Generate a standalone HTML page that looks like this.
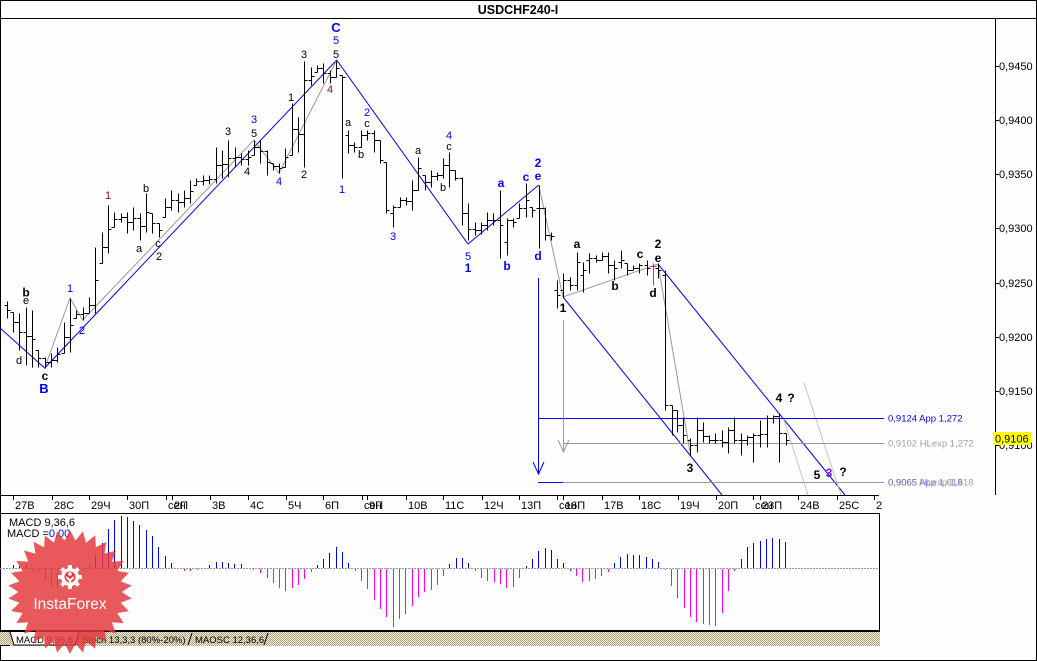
<!DOCTYPE html>
<html><head><meta charset="utf-8"><title>USDCHF240-I</title>
<style>
html,body{margin:0;padding:0;background:#fff;overflow:hidden;}
svg{display:block;}
text{font-family:"Liberation Sans",Arial,sans-serif;}
</style></head><body>
<svg width="1037" height="661" viewBox="0 0 1037 661" xmlns="http://www.w3.org/2000/svg">
<defs>
<pattern id="hatch" width="2" height="2" patternUnits="userSpaceOnUse">
<rect width="2" height="2" fill="#f2eed8"/>
<rect width="1" height="1" fill="#aaa283"/>
<rect x="1" y="1" width="1" height="1" fill="#aaa283"/>
</pattern>
<polygon id="tooth" points="-5.6,-51 0,-62 5.6,-51"/>
</defs>
<rect width="1037" height="661" fill="#fefefe"/>

<!-- frame & title -->
<g shape-rendering="crispEdges" stroke="#000" fill="none">
<rect x="0.5" y="0.5" width="1036" height="660"/>
<path d="M0 18.5H1037"/>
<path d="M995.5 18V495"/>
<path d="M0 495.5H879"/>
<path d="M0 513.5H879.5V631"/>
<path d="M0 631H880" stroke-width="2"/>
</g>
<text x="518" y="14" font-size="12.5" font-weight="bold" text-anchor="middle">USDCHF240-I</text>

<!-- price axis -->
<g shape-rendering="crispEdges" stroke="#000">
<path d="M995 66.5H999M995 120.5H999M995 174.5H999M995 228.5H999M995 283.5H999M995 337.5H999M995 391.5H999M995 445.5H999"/>
</g>
<g font-size="11" fill="#000">
<text x="999" y="70">0,9450</text>
<text x="999" y="124">0,9400</text>
<text x="999" y="178">0,9350</text>
<text x="999" y="232">0,9300</text>
<text x="999" y="287">0,9250</text>
<text x="999" y="341">0,9200</text>
<text x="999" y="395">0,9150</text>
<text x="999" y="449">0,9100</text>
</g>
<rect x="993" y="432" width="38" height="13" fill="#ffff00"/>
<text x="995" y="442.5" font-size="11" fill="#000">0,9106</text>

<!-- time axis -->
<g shape-rendering="crispEdges" stroke="#000">
<path d="M13.5 495V500M52.5 495V500M89.5 495V500M127.5 495V500M166.5 495V500M172.5 495V500M210.5 495V500M248.5 495V500M286.5 495V500M323.5 495V500M362.5 495V500M367.5 495V500M406.5 495V500M443.5 495V500M482.5 495V500M519.5 495V500M557.5 495V500M563.5 495V500M602.5 495V500M639.5 495V500M678.5 495V500M716.5 495V500M753.5 495V500M760.5 495V500M798.5 495V500M837.5 495V500M874.5 495V500"/>
</g>
<g font-size="11" fill="#000">
<text x="15" y="509">27В</text>
<text x="54" y="509">28С</text>
<text x="91" y="509">29Ч</text>
<text x="129" y="509">30П</text>
<text x="168" y="509">сен</text>
<text x="174" y="509">2П</text>
<text x="212" y="509">3В</text>
<text x="250" y="509">4С</text>
<text x="288" y="509">5Ч</text>
<text x="325" y="509">6П</text>
<text x="364" y="509">сен</text>
<text x="369" y="509">9П</text>
<text x="408" y="509">10В</text>
<text x="445" y="509">11С</text>
<text x="484" y="509">12Ч</text>
<text x="521" y="509">13П</text>
<text x="559" y="509">сен</text>
<text x="565" y="509">16П</text>
<text x="604" y="509">17В</text>
<text x="641" y="509">18С</text>
<text x="680" y="509">19Ч</text>
<text x="718" y="509">20П</text>
<text x="755" y="509">сен</text>
<text x="762" y="509">23П</text>
<text x="800" y="509">24В</text>
<text x="839" y="509">25С</text>
<text x="876" y="509">2</text>
</g>

<!-- wave lines -->
<g fill="none" stroke-width="1">
<polyline points="0,328 44.7,368 336.7,60 468,244 538.7,185" stroke="#0000ff"/>
<polyline points="44.7,368 70,298 82.7,320 254,140 279,173 336.7,60" stroke="#999"/>
<polyline points="538.7,185 563,297 658,264 690,452" stroke="#999"/>
<line x1="563" y1="297" x2="722" y2="495" stroke="#0000ff"/>
<line x1="658" y1="264" x2="845" y2="495" stroke="#0000ff"/>
<line x1="783" y1="417" x2="808" y2="495" stroke="#c4c4c4"/>
<line x1="804" y1="383" x2="841" y2="495" stroke="#c4c4c4"/>
</g>
<g fill="none" shape-rendering="crispEdges">
<path d="M538.5 278V474" stroke="#0000ff"/>
<path d="M538 418.5H884" stroke="#0000ff"/>
<path d="M563 443.5H884" stroke="#999"/>
<path d="M538 482.5H563" stroke="#0000ff"/>
<path d="M563 482.5H884" stroke="#999"/>
<path d="M563.5 320V452" stroke="#999"/>
</g>
<path d="M533 462L538.5 474L544 462" fill="none" stroke="#0000ff"/>
<path d="M558 440L563.5 452L569 440" fill="none" stroke="#999"/>

<g font-size="9.5">
<text x="888" y="421.5" fill="#0000ff">0,9124 App 1,272</text>
<text x="888" y="446.5" fill="#a0a0a0">0,9102 HLexp 1,272</text>
<text x="888" y="485.5" fill="#a0a0a0">0,9065 HLexp 1,618</text>
<text x="888" y="485.5" fill="#5050d0" fill-opacity="0.7">0,9065 App 1,618</text>
</g>

<!-- price bars -->
<g transform="translate(0.5,0.5)" shape-rendering="crispEdges" fill="none">
<path stroke="#000" d="M7 301V318M4 305H7M7 310H10M13 312V332M10 312H13M13 322H16M19 313V350M16 322H19M19 332H22M26 307V365M23 332H26M26 336H29M32 310V367M29 336H32M32 339H35M38 350V367M35 350H38M38 358H41M45 357V368M42 358H45M45 362H48M51 353V367M48 362H51M51 360H54M57 347V362M54 360H57M57 354H60M64 322V353M61 353H64M64 337H67M70 298V352M67 337H70M70 325H73M76 310V318M73 318H76M76 314H79M83 307V320M80 314H83M83 313H86M89 297V313M86 313H89M89 305H92M95 247V313M92 305H95M95 280H98M102 232V263M99 263H102M102 247H105M108 205V253M105 247H108M108 229H111M114 212V227M111 227H114M114 219H117M121 213V222M118 219H121M121 217H124M127 212V233M124 217H127M127 222H130M133 207V230M130 222H133M133 218H136M140 213V240M137 218H140M140 226H143M146 193V232M143 226H146M146 212H149M152 213V233M149 213H152M152 223H155M159 223V237M156 223H159M159 230H162M165 198V217M162 217H165M165 207H168M171 190V210M168 207H171M171 200H174M178 193V212M175 200H178M178 202H181M184 190V207M181 202H184M184 198H187M190 180V203M187 198H190M190 191H193M196 178V185M193 185H196M196 181H199M203 175V185M200 181H203M203 180H206M209 175V184M206 180H209M209 179H212M216 147V183M213 179H216M216 165H219M222 150V178M219 165H222M222 164H225M228 140V177M225 164H228M228 158H231M235 147V167M232 158H235M235 157H238M241 153V165M238 157H241M241 159H244M248 150V165M245 159H248M248 157H251M254 140V155M251 155H254M254 147H257M260 140V163M257 147H260M260 151H263M267 150V175M264 151H267M267 162H270M273 163V170M270 163H273M273 166H276M279 163V173M276 166H279M279 168H282M285 148V167M282 167H285M285 157H288M292 103V155M289 155H292M292 129H295M298 117V152M295 129H298M298 134H301M304 61V167M301 134H304M304 80H307M311 67V85M308 80H311M311 76H314M317 65V72M314 72H317M317 68H320M323 63V83M320 68H323M323 73H326M330 70V83M327 73H330M330 77H333M336 60V77M333 77H336M336 68H339M342 75V178M339 75H342M342 77H345M348 130V153M345 135H348M348 145H351M354 142V152M351 145H354M354 147H357M361 130V147M358 147H361M361 135H364M367 130V140M364 135H367M367 133H370M374 130V152M371 133H374M374 140H377M380 140V163M377 140H380M380 160H383M386 162V213M383 162H386M386 210H389M393 205V227M390 213H393M393 207H396M400 197V207M397 207H400M400 200H403M406 197V205M403 200H406M406 201H409M412 180V210M409 201H412M412 190H415M418 157V190M415 190H418M418 168H421M425 175V190M422 175H425M425 182H428M431 170V187M428 182H431M431 176H434M437 172V180M434 176H437M437 175H440M443 158V178M440 175H443M443 165H446M449 152V187M446 165H449M449 170H452M455 170V180M452 170H455M455 178H458M462 177V225M459 178H462M462 213H465M468 203V240M465 213H468M468 229H471M475 222V235M472 229H475M475 230H478M481 222V234M478 230H481M481 225H484M487 212V230M484 225H487M487 220H490M493 213V225M490 220H493M493 220H496M500 190V258M497 220H500M500 225H503M507 218V255M504 242H507M507 220H510M513 218V227M510 220H513M513 222H516M519 203V218M516 218H519M519 208H522M526 183V217M523 208H526M526 200H529M532 207V217M529 207H532M532 210H535M539 185V248M536 208H539M539 208H542M545 207V240M542 208H545M545 235H548M551 232V240M548 235H551M551 236H554M557 280V308M554 290H557M557 295H560M563 273V297M560 290H563M563 280H566M570 277V290M567 280H570M570 285H573M577 252V290M574 285H577M577 262H580M583 262V292M580 275H583M583 270H586M589 253V273M586 260H589M589 258H592M596 255V262M593 258H596M596 260H599M602 252V260M599 260H602M602 256H605M608 252V273M605 256H608M608 265H611M614 260V280M611 265H614M614 268H617M621 250V268M618 262H621M621 260H624M627 263V275M624 263H627M627 270H630M633 265V270M630 270H633M633 268H636M639 263V273M636 268H639M639 265H642M647 260V275M644 265H647M647 268H650M658 263V278M655 268H658M658 270H661M665 270V410M662 275H665M665 405H668M672 405V435M669 405H672M672 410H675M677 410V432M674 410H677M677 425H680M683 417V443M680 425H683M683 435H686M690 438V455M687 440H690M690 445H693M697 417V452M694 445H697M697 430H700M703 422V442M700 430H703M703 436H706M709 435V443M706 436H709M709 440H712M715 433V443M712 440H715M715 440H718M722 430V447M719 440H722M722 442H725M728 427V453M725 442H728M728 430H731M734 417V443M731 430H734M734 440H737M741 433V455M738 440H741M741 440H744M747 435V445M744 440H747M747 437H750M753 433V462M750 437H753M753 435H756M760 420V447M757 435H760M760 434H763M767 415V447M764 434H767M767 418H770M773 415V423M770 418H773M773 416H776M779 413V462M776 416H779M779 433H782M786 433V445M783 433H786M786 440H789"/>
<path stroke="#ff00ff" d="M653 263V285M650 266H656"/>
</g>

<!-- wave labels: black regular -->
<g font-size="11" fill="#000" text-anchor="middle">
<text x="26" y="304">e</text>
<text x="19" y="364">d</text>
<text x="139" y="252">a</text>
<text x="146" y="192">b</text>
<text x="158" y="247">c</text>
<text x="159" y="260">2</text>
<text x="228" y="135">3</text>
<text x="254" y="137">5</text>
<text x="247" y="175">4</text>
<text x="291" y="101">1</text>
<text x="304" y="58">3</text>
<text x="304" y="178">2</text>
<text x="336" y="58">5</text>
<text x="348" y="126">a</text>
<text x="361" y="158">b</text>
<text x="367" y="127">c</text>
<text x="418" y="154">a</text>
<text x="443" y="191">b</text>
<text x="449" y="150">c</text>
<text x="108" y="199" fill="#8a1010">1</text>
<text x="330" y="93" fill="#8a1010">4</text>
</g>
<!-- black bold -->
<g font-size="12" font-weight="bold" fill="#000" text-anchor="middle">
<text x="26" y="296.5">b</text>
<text x="45" y="380">c</text>
<text x="577" y="248">a</text>
<text x="615" y="290">b</text>
<text x="640" y="258">c</text>
<text x="653" y="297">d</text>
<text x="658" y="262">e</text>
<text x="658" y="248">2</text>
<text x="563" y="312">1</text>
<text x="690" y="472">3</text>
<text x="779" y="402">4</text>
<text x="791" y="402">?</text>
<text x="817" y="479">5</text>
<text x="843" y="476">?</text>
<text x="829" y="477" fill="#7a20e0">3</text>
</g>
<!-- blue regular -->
<g font-size="11" fill="#0000ff" text-anchor="middle">
<text x="336" y="44">5</text>
<text x="254" y="123">3</text>
<text x="279" y="185">4</text>
<text x="70" y="292">1</text>
<text x="82" y="334">2</text>
<text x="342" y="193">1</text>
<text x="367" y="116">2</text>
<text x="393" y="240">3</text>
<text x="449" y="139">4</text>
<text x="468" y="260">5</text>
</g>
<!-- blue bold -->
<g font-size="12" font-weight="bold" fill="#0000ff" text-anchor="middle">
<text x="468" y="272">1</text>
<text x="501" y="187">a</text>
<text x="507" y="270">b</text>
<text x="526" y="181">c</text>
<text x="538" y="167">2</text>
<text x="538" y="180">e</text>
<text x="538" y="260">d</text>
<text x="336" y="32" font-size="13">C</text>
<text x="44" y="393" font-size="13">B</text>
</g>

<!-- MACD panel -->
<path d="M0 568.5H879" stroke="#999" stroke-dasharray="2,1" shape-rendering="crispEdges"/>
<g transform="translate(0.5,0)" shape-rendering="crispEdges" fill="none">
<path stroke="#0000ff" d="M13 568V565M19 568V566M26 568V565M89 568V566M95 568V555M102 568V543M108 568V529M114 568V520M121 568V516M127 568V517M133 568V521M139 568V525M146 568V530M152 568V536M158 568V547M165 568V556M171 568V563M209 568V565M216 568V562M222 568V562M228 568V563M234 568V564M241 568V564M317 568V565M323 568V559M329 568V553M336 568V547M342 568V552M348 568V563M449 568V564M456 568V558M462 568V558M468 568V563M526 568V566M532 568V559M538 568V551M545 568V548M551 568V550M557 568V559M563 568V563M614 568V563M620 568V557M627 568V554M633 568V555M639 568V555M646 568V557M652 568V559M658 568V562M741 568V559M747 568V547M753 568V543M760 568V541M766 568V539M772 568V538M779 568V539M785 568V542"/>
<path stroke="#ff00ff" d="M32 569V571M38 569V573M45 569V580M51 569V586M57 569V588M64 569V585M70 569V580M76 569V575M83 569V571M184 569V571M190 569V571M197 569V570M253 569V570M260 569V573M267 569V578M273 569V583M279 569V588M285 569V591M292 569V588M298 569V585M304 569V579M311 569V572M355 569V571M361 569V581M367 569V589M374 569V600M380 569V609M386 569V617M393 569V627M399 569V619M405 569V614M412 569V606M418 569V597M424 569V592M431 569V590M437 569V585M443 569V576M475 569V571M481 569V578M487 569V581M494 569V582M500 569V584M506 569V588M513 569V587M519 569V578M570 569V571M576 569V576M582 569V582M589 569V581M595 569V579M601 569V576M608 569V572M665 569V570M671 569V586M677 569V598M684 569V608M690 569V617M696 569V622M703 569V624M709 569V625M715 569V626M722 569V613M728 569V591M734 569V571"/>
</g>
<text x="9" y="526" font-size="11" fill="#000">MACD 9,36,6</text>
<text x="7" y="537" font-size="11" fill="#000">MACD =<tspan fill="#0000ff">0,00</tspan></text>

<!-- tab bar -->
<rect x="0" y="632" width="880" height="14" fill="url(#hatch)"/>
<polygon points="10,632 14,645 75,645 79,632" fill="#fff"/>
<g stroke="#000" fill="none">
<path d="M10 632L14 645H75L79 632"/>
<path d="M188 645L192 633"/>
<path d="M264 645L268 633"/>
<path d="M0 645.5H10" shape-rendering="crispEdges"/>
</g>
<g font-size="9.5" fill="#000">
<text x="16" y="643">MACD 9,36,6</text>
<text x="82" y="643">Stoch 13,3,3 (80%-20%)</text>
<text x="195" y="643">MAOSC 12,36,6</text>
</g>

<!-- InstaForex watermark -->
<g transform="translate(70,592)" opacity="0.84" fill="#e5393b">
<circle r="52"/>
<use href="#tooth"/>
<use href="#tooth" transform="rotate(12)"/>
<use href="#tooth" transform="rotate(24)"/>
<use href="#tooth" transform="rotate(36)"/>
<use href="#tooth" transform="rotate(48)"/>
<use href="#tooth" transform="rotate(60)"/>
<use href="#tooth" transform="rotate(72)"/>
<use href="#tooth" transform="rotate(84)"/>
<use href="#tooth" transform="rotate(96)"/>
<use href="#tooth" transform="rotate(108)"/>
<use href="#tooth" transform="rotate(120)"/>
<use href="#tooth" transform="rotate(132)"/>
<use href="#tooth" transform="rotate(144)"/>
<use href="#tooth" transform="rotate(156)"/>
<use href="#tooth" transform="rotate(168)"/>
<use href="#tooth" transform="rotate(180)"/>
<use href="#tooth" transform="rotate(192)"/>
<use href="#tooth" transform="rotate(204)"/>
<use href="#tooth" transform="rotate(216)"/>
<use href="#tooth" transform="rotate(228)"/>
<use href="#tooth" transform="rotate(240)"/>
<use href="#tooth" transform="rotate(252)"/>
<use href="#tooth" transform="rotate(264)"/>
<use href="#tooth" transform="rotate(276)"/>
<use href="#tooth" transform="rotate(288)"/>
<use href="#tooth" transform="rotate(300)"/>
<use href="#tooth" transform="rotate(312)"/>
<use href="#tooth" transform="rotate(324)"/>
<use href="#tooth" transform="rotate(336)"/>
<use href="#tooth" transform="rotate(348)"/>
</g>
<g transform="translate(70,577)" fill="#fff">
<circle r="9"/>
<rect x="-2" y="-12" width="4" height="5"/>
<rect x="-2" y="7" width="4" height="5"/>
<rect x="-12" y="-2" width="5" height="4"/>
<rect x="7" y="-2" width="5" height="4"/>
<rect x="-2" y="-12" width="4" height="5" transform="rotate(45)"/>
<rect x="-2" y="-12" width="4" height="5" transform="rotate(-45)"/>
<rect x="-2" y="7" width="4" height="5" transform="rotate(45)"/>
<rect x="-2" y="7" width="4" height="5" transform="rotate(-45)"/>
<circle r="5.5" fill="#e5393b"/>
<circle cy="-3" r="1.8"/>
<path d="M-4 -1L0 2L4 -1V1L1 4V9H-1V4L-4 1Z"/>
</g>
<text x="70" y="609" font-size="15.5" fill="#fff" text-anchor="middle">InstaForex</text>
</svg>
</body></html>
